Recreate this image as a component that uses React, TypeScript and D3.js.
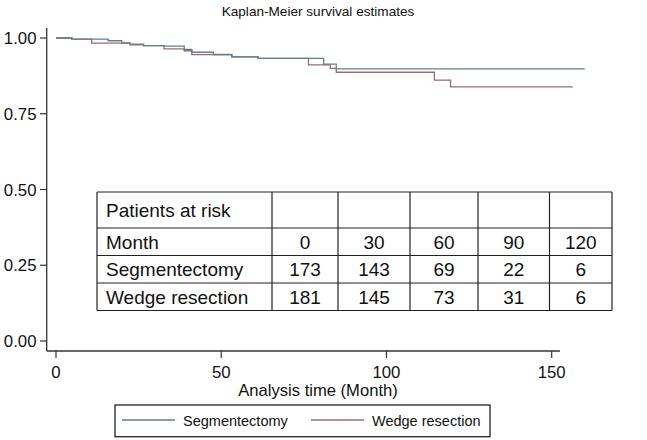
import React from "react";
import * as d3 from "d3";

const segTimes = [0, 4.8, 15.8, 19.9, 22.4, 26.5, 32.7, 38.8, 41.1, 47.6, 53.2, 61.2, 81, 84.8, 160];
const segSurv = [1.0, 0.996, 0.991, 0.984, 0.98, 0.975, 0.973, 0.962, 0.953, 0.946, 0.938, 0.933, 0.914, 0.898, 0.898];
const wedTimes = [0, 4.8, 10.8, 22.4, 26.5, 32.7, 38.8, 41.1, 47.6, 53.2, 61.2, 76.4, 83, 84.8, 114.5, 119.4, 156.4];
const wedSurv = [1.0, 0.996, 0.983, 0.977, 0.975, 0.964, 0.958, 0.945, 0.944, 0.938, 0.933, 0.911, 0.9, 0.887, 0.861, 0.839, 0.839];

const xTicks = [0, 50, 100, 150];
const yTicks = [0, 0.25, 0.5, 0.75, 1.0];

const tableHeader = ["Patients at risk", "", "", "", "", ""];
const months = ["Month", "0", "30", "60", "90", "120"];
const segRisk = ["Segmentectomy", "173", "143", "69", "22", "6"];
const wedRisk = ["Wedge resection", "181", "145", "73", "31", "6"];

const seriesNames = ["Segmentectomy", "Wedge resection"];
const colors = ["#62808f", "#9c6b6e"];

const FONT = "'Liberation Sans', Arial, Helvetica, sans-serif";

export default function App() {
  const W = 647, H = 440;
  const x = d3.scaleLinear().domain([0, 150]).range([56, 551.7]);
  const y = d3.scaleLinear().domain([0, 1]).range([341, 38]);
  const line = d3
    .line<[number, number]>()
    .x((d) => x(d[0]))
    .y((d) => y(d[1]))
    .curve(d3.curveStepAfter);

  const segPts: [number, number][] = segTimes.map((t, i) => [t, segSurv[i]]);
  const wedPts: [number, number][] = wedTimes.map((t, i) => [t, wedSurv[i]]);

  const axisColor = "#333";
  const axisLeft = 46.7;
  const axisBottom = 351;

  // table geometry
  const colX = [97, 272, 338, 410, 478, 549.5, 612];
  const rowY = [192, 228, 255.5, 283, 310.5];
  const rows = [tableHeader, months, segRisk, wedRisk];

  return (
    <svg
      width={W}
      height={H}
      style={{ position: "fixed", left: 0, top: 0, background: "#fff" }}
      fontFamily={FONT}
    >
      <rect x={0} y={0} width={W} height={H} fill="#fff" />
      <text x={318} y={16} textAnchor="middle" fontSize={13.6} fill="#111">
        Kaplan-Meier survival estimates
      </text>

      {/* axes */}
      <line x1={axisLeft} x2={axisLeft} y1={28} y2={axisBottom} stroke={axisColor} strokeWidth={1.3} />
      <line x1={axisLeft} x2={560} y1={axisBottom} y2={axisBottom} stroke={axisColor} strokeWidth={1.3} />
      {yTicks.map((t) => (
        <g key={"y" + t}>
          <line x1={40} x2={axisLeft} y1={y(t)} y2={y(t)} stroke={axisColor} strokeWidth={1.2} />
          <text x={36.5} y={y(t) + 6} textAnchor="end" fontSize={16.8} fill="#111">
            {t.toFixed(2)}
          </text>
        </g>
      ))}
      {xTicks.map((t) => (
        <g key={"x" + t}>
          <line x1={x(t)} x2={x(t)} y1={axisBottom} y2={358} stroke={axisColor} strokeWidth={1.2} />
          <text x={x(t)} y={378} textAnchor="middle" fontSize={16.8} fill="#111">
            {t}
          </text>
        </g>
      ))}
      <text x={318} y={396} textAnchor="middle" fontSize={16.6} fill="#111">
        Analysis time (Month)
      </text>

      {/* curves */}
      <path d={line(wedPts) || ""} fill="none" stroke={colors[1]} strokeWidth={1.3} />
      <path d={line(segPts) || ""} fill="none" stroke={colors[0]} strokeWidth={1.3} />

      {/* table */}
      <g>
        <rect x={colX[0]} y={rowY[0]} width={colX[colX.length - 1] - colX[0]} height={rowY[rowY.length - 1] - rowY[0]} fill="#fff" />
        {rowY.map((ry, i) => (
          <line key={"h" + i} x1={colX[0]} x2={colX[colX.length - 1]} y1={ry} y2={ry} stroke="#222" strokeWidth={1.2} />
        ))}
        {colX.map((cx, i) => (
          <line key={"v" + i} x1={cx} x2={cx} y1={rowY[0]} y2={rowY[rowY.length - 1]} stroke="#222" strokeWidth={1.2} />
        ))}
        {rows.map((r, ri) =>
          r.map((cell, ci) =>
            cell ? (
              <text
                key={ri + "-" + ci}
                x={ci === 0 ? colX[0] + 9 : (colX[ci] + colX[ci + 1]) / 2}
                y={(rowY[ri] + rowY[ri + 1]) / 2 + 6.8}
                textAnchor={ci === 0 ? "start" : "middle"}
                fontSize={19}
                fill="#111"
              >
                {cell}
              </text>
            ) : null
          )
        )}
      </g>

      {/* legend */}
      <rect x={115} y={405} width={375} height={31.7} fill="none" stroke="#222" strokeWidth={1.3} />
      <line x1={122} x2={175} y1={420} y2={420} stroke={colors[0]} strokeWidth={1.3} />
      <text x={183} y={425.5} fontSize={14.5} fill="#111">{seriesNames[0]}</text>
      <line x1={311} x2={364} y1={420} y2={420} stroke={colors[1]} strokeWidth={1.3} />
      <text x={372} y={425.5} fontSize={14.5} fill="#111">{seriesNames[1]}</text>
    </svg>
  );
}
